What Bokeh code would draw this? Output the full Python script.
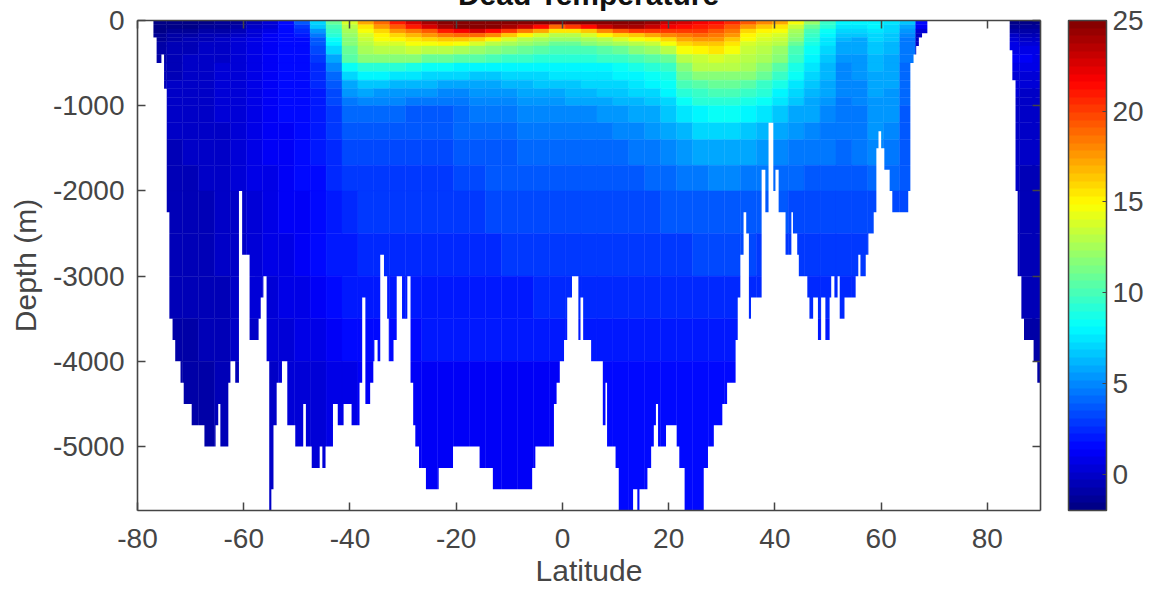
from bokeh.plotting import figure
from bokeh.embed import file_html
from bokeh.resources import INLINE
from bokeh.models import (Range1d, LinearColorMapper, ColorBar, FixedTicker, LinearAxis,
                          ColumnDataSource)
from bokeh.transform import linear_cmap

chart_title = "Dead Temperature"
tick_lat = [-80, -60, -40, -20, 0, 20, 40, 60, 80]
tick_depth = [0, -1000, -2000, -3000, -4000, -5000]
tick_temp = [0, 5, 10, 15, 20, 25]

# column centres (deg), each 3 deg wide
cell_lat = [-76, -73, -70, -67, -64, -61, -58, -55, -52, -49, -46, -43, -40, -37, -34, -31, -28, -25, -22, -19,
            -16, -13, -10, -7, -4, -1, 2, 5, 8, 11, 14, 17, 20, 23, 26, 29, 32, 35, 38, 41, 44, 47, 50, 53, 56,
            59, 62, 65, 68, 84.5, 87.5, 90]
# depth bands (m)
band_edges = [0, 50, 100, 150, 200, 250, 300, 400, 500, 600, 700, 800, 900, 1000, 1200, 1400, 1700, 2000, 2500,
              3000, 3500, 4000, 5750]

t0 = [-1.8,-1.8,-1.8,-1.7,-1.5,-1.2,-0.5,0.3,1.5,3.5,7,11,14,17,19,21,22.5,24,25.5,26,26,26,26,26,25.5,25,25.5,26,26.5,26.5,25.5,24.5,23,22.5,22,21.5,20.5,19.5,18,17,14.5,12,9.5,8,8,8,7.5,6.5,1.5,-1.6,-1.7,-1.7]
t50 = [-1.8,-1.7,-1.6,-1.5,-1.2,-0.8,-0.2,0.5,1.4,3,6.5,10,13,15.5,17.5,19.5,21,22.5,24,25,25.5,25,24,23,21.5,19,20,21.5,23,24,24,23,22,21.5,21,20.5,19.5,17.5,16.5,15.5,13.5,11,9,7.5,7.5,7.8,7.2,6,1,-1.4,-1.5,-1.5]
t100 = [-1.6,-1.4,-1.2,-1,-0.8,-0.4,0.2,0.8,1.4,2.5,5.5,9.5,12.5,14.5,16,17.5,18.5,19.5,21,22,22.5,21.5,20,18.5,17,15.5,15.5,16.5,18,19.5,20,20,20,20,20,19.5,18.5,16,15,14.5,12.5,10,8.3,7,7,7.5,7,5.5,0.5,-0.8,-0.9,-1]
t150 = [-1.4,-1.1,-0.8,-0.6,-0.4,0,0.5,1,1.4,2,4.5,9,12,14,15,16,16.8,17.5,18.5,19,19,18,16.5,15,14,13,13,14,15,16,16.5,17,18,18.5,19,18.5,17.5,15,14.3,14,12,9.5,8,6.6,6.5,7.2,6.8,5,0,-0.3,-0.4,-0.5]
t200 = [-1.2,-0.8,-0.6,-0.4,-0.2,0.2,0.6,1.1,1.4,1.7,3.8,8.5,11.5,13.5,14.5,15,15.5,16,16.5,16.5,16,15,14,13,12.5,12,12,12.5,13,14,14.5,15,16,17,17.5,17.5,16.5,14.5,13.8,13.5,11.5,9,7.6,6.2,6,7,6.6,4.7,0,0.2,0.1,0]
t250 = [-1,-0.7,-0.4,-0.3,-0.1,0.3,0.7,1.2,1.5,1.6,3.5,8,11.5,13,13.8,14,14.5,14.8,15,14.5,14,13,12.5,12,11.5,11,11,11.5,12,12.5,13,13.5,14.5,16,16.5,16.5,15.5,14,13.5,13,11,8.7,7.3,6,5.8,6.8,6.4,4.6,0,0.6,0.5,0.4]
t300 = [-0.9,-0.6,-0.4,-0.2,0,0.4,0.8,1.2,1.5,1.6,3.2,7,11,12.5,13,13,13.2,13,13,12.5,12,11.8,11.2,10.8,10.5,10.2,10,10.2,10.5,11,11.5,12,12.8,14.5,15,15.3,14.5,13.5,13,12.3,10.2,8.2,7,5.6,5.6,6.6,6.2,4.5,0,0.9,0.9,0.8]
t400 = [-0.8,-0.5,-0.3,-0.1,0.1,0.5,0.9,1.3,1.5,1.6,2.8,6,10.5,11.5,11.8,11.5,11.5,11,10.8,10.5,10.3,10,9.7,9.5,9.3,9.3,9.2,9.2,9.4,9.6,10,10.3,11,13,13.6,14,13.5,13,12.5,11.5,9.5,7.8,6.7,5.3,5.5,6.4,6,4.4,0,1,1,0.9]
t500 = [-0.7,-0.4,-0.2,0,0.2,0.5,0.9,1.3,1.5,1.6,2.5,5,8.5,9.2,9.2,9,8.7,8.4,8.2,8,7.9,7.8,7.8,7.9,8,8,8,8,8,8.2,8.6,9,9.6,11.8,12.8,13,12.8,12.5,11.8,10.5,8.8,7.4,6.4,5.1,5.4,6.2,5.9,4.3,0,0.8,0.8,0.7]
t600 = [-0.6,-0.4,-0.2,0,0.2,0.5,0.9,1.3,1.5,1.6,2.4,4.2,7,8,8,7.6,7.4,7.2,7,6.9,6.8,6.8,7,7.1,7.2,7.3,7.4,7.5,7.6,7.8,8,8.3,8.8,10.8,11.5,11.8,11.8,11.5,10.8,9.5,8.2,7,6.2,5,5.2,6,5.7,4.2,0,0.5,0.5,0.4]
t700 = [-0.5,-0.3,-0.2,0,0.2,0.5,0.9,1.3,1.5,1.6,2.3,3.8,6,6.8,6.6,6.3,6.2,6.1,6,5.9,5.9,6,6.2,6.3,6.5,6.5,6.7,6.9,7,7.2,7.5,7.8,8.4,10,10.6,10.8,10.8,10.5,9.8,8.7,7.6,6.6,5.9,4.9,5,5.8,5.6,4.1,0,0.3,0.2,0.2]
t800 = [-0.5,-0.3,-0.1,0,0.2,0.5,0.9,1.3,1.5,1.6,2.2,3.4,5.2,5.7,5.5,5.4,5.3,5.2,5.1,5.1,5.2,5.4,5.5,5.7,5.9,6,6.1,6.3,6.5,6.7,6.9,7.2,7.8,9.2,9.8,10,10,9.6,9,8,7.1,6.3,5.7,4.8,4.9,5.6,5.4,4,0,0.2,0.1,0.1]
t900 = [-0.5,-0.3,-0.1,0,0.2,0.5,0.9,1.3,1.5,1.6,2.1,3.2,4.7,5,4.9,4.8,4.7,4.7,4.7,4.7,4.8,5,5.1,5.3,5.4,5.5,5.6,5.7,5.9,6.1,6.4,6.7,7.2,8.5,9,9.3,9.2,8.8,8.3,7.4,6.6,6,5.4,4.7,4.8,5.5,5.3,4,0,0.1,0,0]
t1000 = [-0.4,-0.3,-0.1,0,0.2,0.5,0.9,1.2,1.4,1.6,2.1,3,4,4.1,4,4,3.9,3.9,3.9,4.3,4.4,4.6,4.7,4.8,5,5,5,5.1,5.2,5.4,5.7,6,6.5,7.5,8,8.4,8.2,7.8,7.4,6.7,6,5.6,5.1,4.6,4.7,5.4,5.2,3.9,0,0,-0.1,-0.1]
t1200 = [-0.4,-0.3,-0.2,-0.1,0.1,0.4,0.8,1.1,1.3,1.5,2,2.8,3.5,3.6,3.6,3.6,3.6,3.6,3.6,4,4.1,4.2,4.3,4.4,4.4,4.4,4.4,4.5,4.6,4.8,5,5.3,5.7,6.4,6.9,7,7,6.7,6.3,5.8,5.3,5,4.7,4.5,4.6,5.2,5,3.8,0,-0.1,-0.2,-0.2]
t1400 = [-0.4,-0.4,-0.3,-0.2,0,0.3,0.7,1,1.3,1.5,1.8,2.6,3.2,3.3,3.3,3.3,3.3,3.3,3.3,3.7,3.8,3.9,3.9,4,4,4,4,4,4.1,4.2,4.4,4.6,4.9,5.4,5.7,5.8,5.8,5.6,5.3,5,4.7,4.5,4.4,4.3,4.4,4.8,4.7,3.7,0,-0.2,-0.3,-0.3]
t1700 = [-0.4,-0.4,-0.4,-0.3,-0.1,0.2,0.6,0.9,1.2,1.4,1.7,2.3,2.9,3,3,3,3,3,3,3.4,3.4,3.5,3.5,3.5,3.6,3.6,3.6,3.6,3.6,3.7,3.8,4,4.2,4.5,4.7,4.8,4.8,4.7,4.5,4.3,4,3.9,3.8,3.8,3.9,4.1,4,3.5,0,-0.3,-0.4,-0.4]
t2000 = [-0.5,-0.5,-0.5,-0.4,-0.2,0.1,0.5,0.8,1,1.3,1.6,2,2.4,2.8,2.9,3,3,3,3,3,3,3.1,3.1,3.1,3.1,3.2,3.2,3.2,3.2,3.2,3.3,3.4,3.5,3.7,3.8,3.9,3.9,3.8,3.7,3.6,3.4,3.3,3.2,3.2,3.3,3.4,3.4,3.3,0,-0.4,-0.5,-0.5]
t2500 = [-0.6,-0.6,-0.6,-0.5,-0.3,0,0.4,0.6,0.8,1.1,1.5,1.9,2.2,2.4,2.5,2.6,2.6,2.6,2.6,2.6,2.6,2.6,2.7,2.7,2.7,2.7,2.7,2.7,2.8,2.8,2.8,2.9,2.9,3,3.1,3.1,3.1,3.1,3,3,2.9,2.9,2.8,2.8,2.8,2.8,2.8,2.8,0,-0.5,-0.6,-0.6]
t3000 = [-0.7,-0.7,-0.7,-0.6,-0.4,-0.1,0.3,0.5,0.6,0.9,1.2,1.6,1.9,2,2.1,2.1,2.1,2.2,2.2,2.2,2.2,2.2,2.2,2.2,2.3,2.3,2.3,2.3,2.3,2.4,2.4,2.4,2.5,2.5,2.5,2.6,2.6,2.6,2.6,2.6,2.6,2.6,2.5,2.5,2.5,2.5,2.5,2.5,0,-0.6,-0.7,-0.7]
t3500 = [-0.8,-0.8,-0.8,-0.7,-0.5,-0.2,0.1,0.3,0.4,0.6,0.9,1.2,1.4,1.6,1.7,1.7,1.7,1.8,1.8,1.8,1.8,1.8,1.8,1.8,1.8,1.9,1.9,1.9,2,2,2,2,2,2.1,2.1,2.1,2.1,2.1,2.1,2.1,2.2,2.2,2.2,2.2,2.2,2.2,2.2,2.2,0,-0.7,-0.8,-0.8]
t4000 = [-0.8,-0.8,-0.8,-0.8,-0.6,-0.4,-0.1,0.1,0.2,0.3,0.5,0.7,0.9,1,1.1,1.1,1.2,1.2,1.2,1.2,1.2,1.2,1.2,1.3,1.3,1.3,1.3,1.4,1.5,1.6,1.6,1.7,1.7,1.7,1.7,1.7,1.7,1.8,1.8,1.8,1.8,1.8,1.8,1.8,1.8,1.8,1.8,1.8,0,-0.8,-0.8,-0.8]
temp_rows = [t0, t50, t100, t150, t200, t250, t300, t400, t500, t600, t700, t800, t900, t1000, t1200, t1400,
             t1700, t2000, t2500, t3000, t3500, t4000]

# sea floor: floor_depth[i] holds between floor_lat[i] and floor_lat[i+1]
floor_lat = [-80,-77,-76.4,-75.5,-75,-74.5,-74,-73.4,-72.9,-71.9,-71.3,-69.8,-67.4,-65.3,-64.8,-64.4,-62.9,-62.5,-61.6,-60.9,
             -60.3,-58.9,-57.2,-56.8,-56.3,-55.7,-55.2,-54.8,-54.4,-53.8,-52.8,-51.8,-50.3,-48.8,-48.3,-47.2,-45.7,-45.2,-44.6,-43.2,
             -42.3,-41.2,-39.7,-38.2,-37.7,-37.1,-36.2,-35.6,-35.4,-34.8,-34.3,-33.6,-33,-32.7,-31.8,-31.2,-30.2,-29.2,-28.6,-28.1,
             -27.7,-27,-25.7,-23.3,-20.6,-15.6,-13.1,-5.7,-5.1,-1.6,-1.1,-0.5,0.3,0.9,1.8,3,3.4,3.9,5.4,7.6,
             8.1,8.4,10,10.6,13.3,14.1,14.5,16,16.7,17.2,17.6,18,19.5,21.5,22,23,26.6,27.4,28.5,30.1,
             31,32.6,33,33.5,34.1,34.6,35.1,35.5,37.5,38.2,38.8,39.7,40.1,40.7,42,43.1,43.4,44.2,44.5,46.1,
             46.5,47.2,48.1,48.7,49.5,50.3,50.6,51.2,51.8,52.2,53.1,55.2,55.7,56.1,57.1,57.6,58.6,59.1,59.5,60,
             60.6,61.6,62.1,65.1,65.5,66.1,66.6,67.1,67.7,68.7,84.2,84.7,85.3,85.7,86.4,86.9,88.7,89.4,90]
floor_depth = [0,200,500,400,800,2250,3500,3750,4000,4250,4500,4750,5000,4750,4500,5000,4250,4000,4250,2000,
               2750,3750,3500,3250,3000,4000,5750,5500,4750,4250,4000,4750,5000,4500,5000,5250,5000,5250,5000,4500,
               4750,4500,4750,4250,3250,4500,4250,4000,3750,4000,2750,3000,3500,4000,3750,3000,3500,3000,4250,4750,
               5000,5250,5500,5250,5000,5250,5500,5250,5000,4500,4250,4000,3750,3250,3000,3750,3250,3750,4000,4750,
               4250,5000,5250,5750,5500,5750,5500,5250,5000,4750,4500,5000,4750,5000,5250,5750,5250,5000,4750,4500,
               4250,3750,3250,2750,2250,2500,3500,3250,1750,2250,1200,2000,1750,2250,2750,2250,2500,2750,3000,3250,
               3500,3250,3750,3250,3750,3250,3000,3250,3000,3500,3250,3000,2750,3000,2750,2500,2250,1500,1300,1500,
               1750,2000,2250,2000,500,400,300,200,150,0,350,700,2000,3000,3500,3750,4000,4250]

INK = "#454545"
FONT = "Liberation Sans"


def jet(n):
    out = []
    for i in range(n):
        f = (i + 0.5) / n
        c = [max(0.0, min(1.0, 1.5 - abs(4 * f - k))) for k in (3, 2, 1)]
        out.append("#%02x%02x%02x" % tuple(int(round(v * 255)) for v in c))
    return out


palette = jet(64)
mapper = LinearColorMapper(palette=palette, low=-2, high=25)

p = figure(width=1150, height=591, output_backend="svg", toolbar_location=None,
           x_range=Range1d(-80, 90), y_range=Range1d(-5750, 0),
           frame_width=903, frame_height=490,
           min_border_left=137, min_border_right=110, min_border_top=20, min_border_bottom=81,
           background_fill_color="white", border_fill_color="white")
p.grid.visible = False
p.outline_line_color = None

left, right, top, bottom, val = [], [], [], [], []
for r, row in enumerate(temp_rows):
    assert len(row) == len(cell_lat), r
    for la, t in zip(cell_lat, row):
        left.append(la - 1.5)
        right.append(la + 1.5)
        top.append(-band_edges[r])
        bottom.append(-band_edges[r + 1])
        val.append(t)
src = ColumnDataSource(dict(left=left, right=right, top=top, bottom=bottom, val=val))
cmap = linear_cmap("val", palette, -2, 25)
p.quad(left="left", right="right", top="top", bottom="bottom", source=src,
       fill_color=cmap, line_color=cmap, line_width=0.4)

assert len(floor_lat) == len(floor_depth) + 1
xs, ys = [-80], [-5750]
for i, d in enumerate(floor_depth):
    xs += [floor_lat[i], floor_lat[i + 1]]
    ys += [-d, -d]
xs.append(90)
ys.append(-5750)
p.patch(xs, ys, fill_color="white", line_color=None)

for ax in [p.xaxis[0], p.yaxis[0]]:
    ax.axis_line_color = INK
    ax.axis_line_width = 1.6
    ax.major_tick_line_color = INK
    ax.major_tick_line_width = 1.5
    ax.major_tick_in = 8
    ax.major_tick_out = 0
    ax.minor_tick_line_color = None
    ax.major_label_text_color = INK
    ax.major_label_text_font = FONT
    ax.major_label_text_font_size = "28px"
    ax.axis_label_text_color = INK
    ax.axis_label_text_font = FONT
    ax.axis_label_text_font_size = "30px"
    ax.axis_label_text_font_style = "normal"

p.xaxis[0].ticker = FixedTicker(ticks=tick_lat)
p.xaxis[0].major_label_overrides = {t: str(t) for t in tick_lat}
p.yaxis[0].ticker = FixedTicker(ticks=tick_depth)
p.yaxis[0].major_label_overrides = {t: str(t) for t in tick_depth}
p.xaxis[0].axis_label = "Latitude"
p.xaxis[0].major_label_standoff = 18
p.xaxis[0].axis_label_standoff = 3
p.yaxis[0].axis_label = "Depth (m)"
p.yaxis[0].major_label_standoff = 13
p.yaxis[0].axis_label_standoff = 8

for loc, ticks in (("above", tick_lat), ("right", tick_depth)):
    extra = LinearAxis(ticker=FixedTicker(ticks=ticks), major_label_text_font_size="0px",
                       major_label_text_color=None, axis_line_color=INK, axis_line_width=1.6,
                       major_tick_line_color=INK, major_tick_line_width=1.5, major_tick_in=8,
                       major_tick_out=0, minor_tick_line_color=None, major_label_standoff=0)
    p.add_layout(extra, loc)

bar = ColorBar(color_mapper=mapper, ticker=FixedTicker(ticks=tick_temp), width=38, height=490,
               location=(931, 0), padding=0, margin=0, label_standoff=6,
               major_label_text_font=FONT, major_label_text_font_size="28px", major_label_text_color=INK,
               major_tick_in=4, major_tick_line_color=INK, major_tick_line_width=1.2, minor_tick_line_color=None,
               bar_line_color=INK, bar_line_width=1.5, border_line_color=None, background_fill_color=None)
p.add_layout(bar, "center")

html = file_html(p, INLINE)
style = ("<style>html{overflow:hidden}body{margin:0;padding:0}"
         "#chart-title{position:absolute;z-index:10;left:137px;width:903px;top:-23px;text-align:center;"
         "font:bold 30px/36px 'Liberation Sans';color:#111111}</style>")
html = html.replace("<head>", "<head>" + style, 1)
head_part, body_part = html.rsplit("<body>", 1)
html = head_part + "<body><div id='chart-title'>%s</div>" % chart_title + body_part
open("out.html", "w").write(html)
